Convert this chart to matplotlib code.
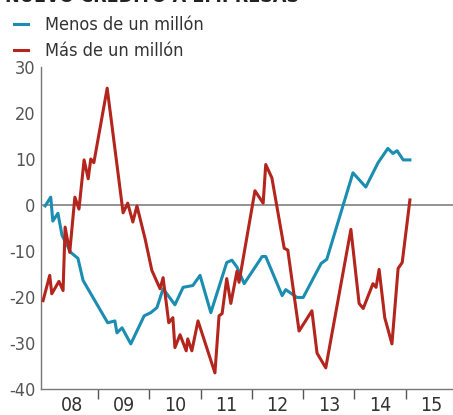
"""
Nuevo crédito a empresas: menos y más de un millón.
"""
import matplotlib
matplotlib.use("Agg")
from matplotlib import pyplot as plt
from matplotlib import font_manager
from matplotlib.lines import Line2D

BLUE = "#1a8db0"
RED = "#b3251d"

# Menos de un millón (fractional year, value)
menos_x = [2007.97, 2008.08, 2008.12, 2008.22, 2008.30, 2008.47, 2008.61, 2008.71,
           2009.19, 2009.33, 2009.37, 2009.47, 2009.64, 2009.90, 2010.03, 2010.15,
           2010.27, 2010.50, 2010.66, 2010.85, 2010.99, 2011.20, 2011.51, 2011.61,
           2011.71, 2011.85, 2012.20, 2012.27, 2012.59, 2012.66, 2012.88, 2013.00,
           2013.35, 2013.46, 2013.97, 2014.22, 2014.46, 2014.65, 2014.75, 2014.83,
           2014.95, 2015.08]
menos_y = [-0.2, 1.7, -3.5, -1.8, -6.6, -10.3, -11.6, -16.4,
           -25.6, -25.2, -27.8, -26.7, -30.2, -24.1, -23.4, -22.3,
           -18.2, -21.7, -17.9, -17.5, -15.3, -23.4, -12.5, -12.0,
           -13.5, -17.1, -11.2, -11.2, -19.7, -18.4, -20.1, -20.1,
           -12.7, -11.8, 7.0, 3.9, 9.2, 12.3, 11.2, 11.8,
           9.8, 9.8]

# Más de un millón
mas_x = [2007.93, 2008.06, 2008.10, 2008.24, 2008.32, 2008.36, 2008.45, 2008.55,
         2008.63, 2008.73, 2008.81, 2008.86, 2008.92, 2009.18, 2009.49, 2009.58,
         2009.68, 2009.76, 2009.92, 2010.05, 2010.21, 2010.27, 2010.38, 2010.46,
         2010.50, 2010.60, 2010.72, 2010.75, 2010.83, 2010.95, 2011.28, 2011.36,
         2011.42, 2011.51, 2011.59, 2011.71, 2011.75, 2012.06, 2012.22, 2012.27,
         2012.39, 2012.63, 2012.70, 2012.92, 2013.17, 2013.27, 2013.44, 2013.93,
         2014.09, 2014.17, 2014.36, 2014.42, 2014.48, 2014.59, 2014.73, 2014.85,
         2014.93, 2015.08]
mas_y = [-20.8, -15.3, -19.3, -16.6, -18.6, -4.8, -10.3, 1.7,
         -0.9, 9.8, 5.7, 10.0, 9.2, 25.4, -1.7, 0.4,
         -3.7, -0.2, -7.4, -14.2, -18.2, -15.8, -25.6, -24.5,
         -31.0, -28.2, -31.7, -29.1, -31.7, -25.2, -36.5, -24.1,
         -23.6, -16.0, -21.4, -14.4, -16.8, 3.1, 0.4, 8.8,
         5.9, -9.4, -9.8, -27.4, -23.0, -32.2, -35.4, -5.3,
         -21.4, -22.5, -17.1, -17.9, -14.0, -24.5, -30.2, -13.8,
         -12.5, 1.1]

years = [2008, 2009, 2010, 2011, 2012, 2013, 2014, 2015]
year_labels = ["08", "09", "10", "11", "12", "13", "14", "15"]
y_ticks = [30, 20, 10, 0, -10, -20, -30, -40]

# the source uses a condensed grotesque; take a narrow face if one is there
names = {f.name for f in font_manager.fontManager.ttflist}
narrow = [n for n in ["Liberation Sans Narrow", "DejaVu Sans Condensed"]
          if n in names]
stretch = "normal"
if not narrow:
    narrow = ["DejaVu Sans"]
    stretch = "condensed"
plt.rcParams["font.family"] = narrow + ["DejaVu Sans"]
plt.rcParams["font.stretch"] = stretch

fig = plt.figure(figsize=(4.53, 4.15), dpi=100)
ax = fig.add_axes([41 / 453, 1 - 389 / 415, 1 - 41 / 453, (389 - 67) / 415])

ax.axhline(0, color="#8a8a8a", lw=1.3, zorder=1)
ax.plot(menos_x, menos_y, color=BLUE, lw=2.2, zorder=2)
ax.plot(mas_x, mas_y, color=RED, lw=2.2, zorder=3)

ax.set_xlim(2007.89, 2015.92)
ax.set_ylim(-40, 30)

for s in ["top", "right"]:
    ax.spines[s].set_visible(False)
for s in ["left", "bottom"]:
    ax.spines[s].set_color("#777777")
    ax.spines[s].set_linewidth(1.0)

ax.set_yticks(y_ticks)
ax.set_yticklabels([str(v) for v in y_ticks])
ax.tick_params(axis="y", length=0, pad=4, labelsize=13, labelcolor="#555555")

# year boundaries as ticks, labels centred in each year
ax.set_xticks(years[1:])
ax.set_xticklabels([])
ax.set_xticks([y + 0.5 for y in years], minor=True)
ax.set_xticklabels(year_labels, minor=True)
ax.tick_params(axis="x", which="major", direction="out", length=7,
               width=1.0, color="#555555")
ax.tick_params(axis="x", which="minor", length=0, pad=5, labelsize=14,
               labelcolor="#333333")

# title, mostly cut off at the top like the source
fig.text(0.012, 1 - 6 / 415, "NUEVO CRÉDITO A EMPRESAS", fontsize=14,
         fontweight="bold", color="#222222", va="bottom", ha="left")

handles = [Line2D([], [], color=BLUE, lw=2.2),
           Line2D([], [], color=RED, lw=2.2)]
fig.legend(handles, ["Menos de un millón", "Más de un millón"],
           loc="upper left", bbox_to_anchor=(-0.005, 1.0), frameon=False,
           fontsize=13, handlelength=0.8, handletextpad=0.9,
           labelspacing=0.45, labelcolor="#333333")

fig.savefig("out.png", dpi=100)
